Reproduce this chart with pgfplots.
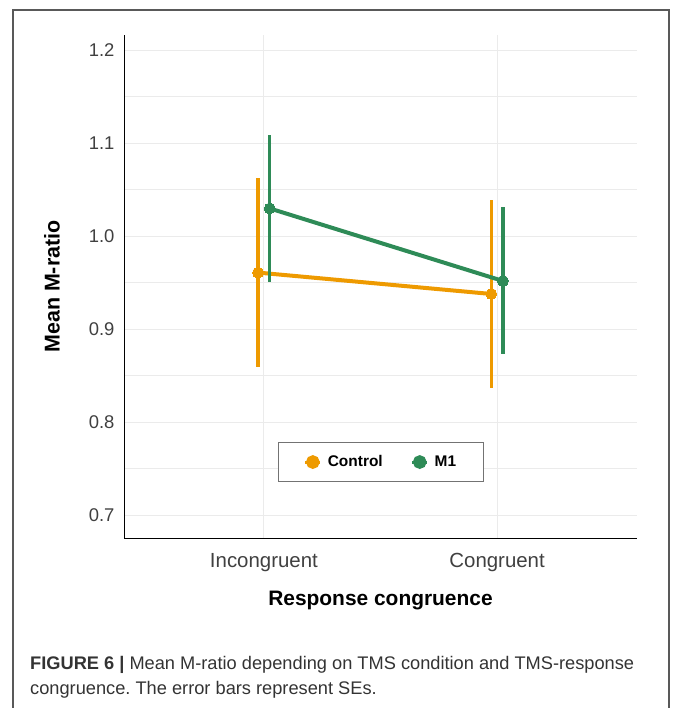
\documentclass[border=0pt]{standalone}
\usepackage{fontspec}
\setmainfont{Liberation Sans}
\usepackage{pgfplots}
\pgfplotsset{compat=1.18}
\frenchspacing

\definecolor{ctrl}{HTML}{EE9A00}
\definecolor{mone}{HTML}{2E8B57}
\definecolor{gridgray}{HTML}{EBEBEB}

% means and SEs (x dodged by 0.025)
\pgfplotstableread{
x     y      e
0.975 0.961  0.102
1.975 0.938  0.101
}\controldata
\pgfplotstableread{
x     y      e
1.025 1.030  0.079
2.025 0.952  0.079
}\monedata

\begin{document}
\begin{tikzpicture}
\useasboundingbox (0,0) rectangle (673bp,708bp);
% figure frame
\draw[black!65, line width=1.2bp] (13bp,0bp) -- (13bp,698bp) -- (669bp,698bp) -- (669bp,0bp);

\begin{axis}[
  at={(124bp,170bp)}, anchor=south west,
  scale only axis,
  width=513bp, height=503bp,
  xmin=0.4, xmax=2.6,
  ymin=0.6756, ymax=1.2165,
  axis lines*=left,
  axis line style={black, line width=0.9bp},
  xtick={1,2},
  xticklabels={Incongruent,Congruent},
  ytick={0.7,0.8,0.9,1.0,1.1,1.2},
  yticklabels={0.7,0.8,0.9,1.0,1.1,1.2},
  minor ytick={0.75,0.85,0.95,1.05,1.15},
  major tick length=0pt, minor tick length=0pt,
  xmajorgrids, ymajorgrids, yminorgrids,
  grid style={gridgray, line width=0.9bp},
  minor grid style={gridgray, line width=0.9bp},
  tick label style={text=black!75},
  /pgf/number format/assume math mode=true,
  xticklabel style={font=\fontsize{20.5}{22}\selectfont, yshift=-12bp},
  yticklabel style={font=\fontsize{18.5}{20}\selectfont, xshift=-6bp},
  xlabel={\textbf{Response congruence}},
  xlabel style={font=\fontsize{21}{23}\selectfont,
    at={(axis description cs:0.5,-0.1252)}, anchor=center},
  ylabel={\textbf{Mean M-ratio}},
  ylabel style={font=\fontsize{21.5}{23}\selectfont,
    at={(axis description cs:-0.1404,0.5)}, anchor=center},
  legend style={at={(0.501,0.151)}, anchor=center, draw=black!55,
    line width=0.9bp, font=\fontsize{15.5}{17}\selectfont\bfseries,
    legend columns=2, inner xsep=25bp, inner ysep=11bp,
    nodes={inner xsep=2bp},
    /tikz/every odd column/.append style={column sep=4bp},
    /tikz/every even column/.append style={column sep=26bp}},
  legend image code/.code={%
    \draw[#1, mark=none, line width=3bp] (0bp,0bp) -- (15bp,0bp);
    \fill[#1] (7.5bp,0bp) circle (4.8bp);},
  every axis plot/.append style={line width=4bp},
  error bars/error bar style={line width=3.4bp},
  error bars/error mark=none,
]
\addplot[ctrl, mark=*, mark size=5.5bp, mark options={solid, fill=ctrl, draw=ctrl, line width=0bp},
  error bars/.cd, y dir=both, y explicit]
  table[x=x, y=y, y error=e] {\controldata};
\addlegendentry{Control}
\addplot[mone, mark=*, mark size=5.5bp, mark options={solid, fill=mone, draw=mone, line width=0bp},
  error bars/.cd, y dir=both, y explicit]
  table[x=x, y=y, y error=e] {\monedata};
\addlegendentry{M1}
\end{axis}

% caption
\node[anchor=base west, inner sep=0pt, font=\fontsize{18.3}{20}\selectfont, text=black!80]
  at (30bp,39bp) {\textbf{FIGURE 6 |} Mean M-ratio depending on TMS condition and TMS-response};
\node[anchor=base west, inner sep=0pt, font=\fontsize{18.3}{20}\selectfont, text=black!80]
  at (30bp,14bp) {congruence. The error bars represent SEs.};
\end{tikzpicture}
\end{document}
